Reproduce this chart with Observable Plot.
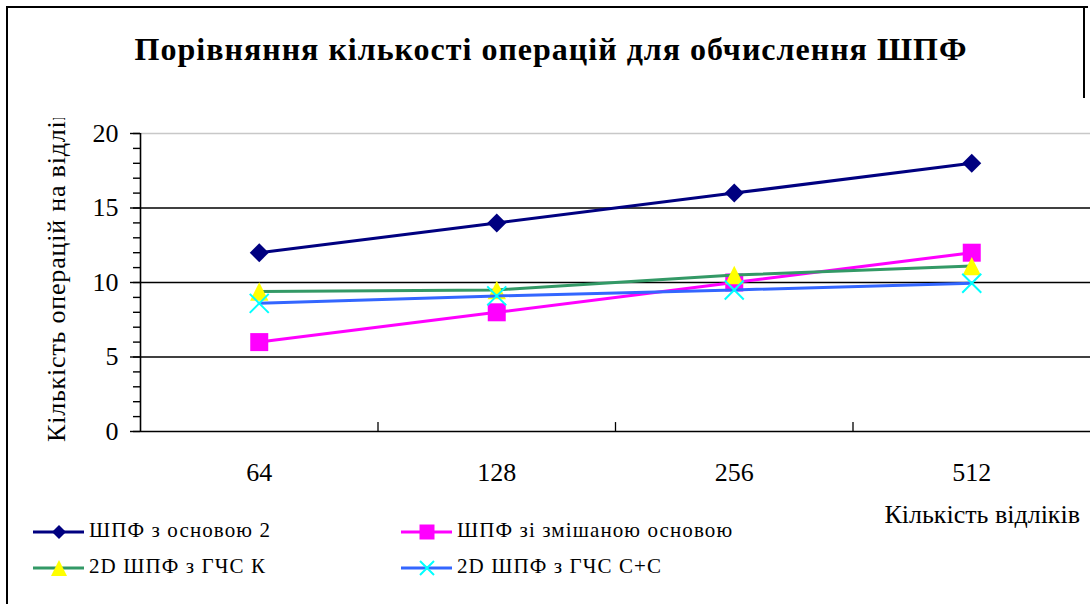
<!DOCTYPE html>
<html>
<head>
<meta charset="utf-8">
<script src="https://cdn.jsdelivr.net/npm/d3@7"></script>
<script src="https://cdn.jsdelivr.net/npm/@observablehq/plot@0.6"></script>
<style>
  html, body { margin: 0; padding: 0; background: #fff; }
  #wrap { position: relative; width: 1090px; height: 604px; overflow: hidden; font-family: "Liberation Serif", "Times New Roman", serif; }
  .abs { position: absolute; white-space: nowrap; }
  #title { left: 0; width: 1102px; top: 32px; text-align: center; font-weight: bold; font-size: 32px; letter-spacing: 1px; line-height: 34px; }
  #xlabel { right: 10px; top: 500px; font-size: 26px; line-height: 30px; }
  .leg { font-size: 21px; letter-spacing: 1.1px; line-height: 24px; }
  #border-top { left: 6px; top: 6px; width: 1082px; height: 2px; background: #000; }
  #border-left { left: 6px; top: 6px; width: 2px; height: 598px; background: #000; }
  #border-right { left: 1083px; top: 6px; width: 2px; height: 92px; background: #000; }
</style>
</head>
<body>
<div id="wrap">
  <div id="chart" class="abs" style="left:0;top:0"></div>
  <div id="border-top" class="abs"></div>
  <div id="border-left" class="abs"></div>
  <div id="border-right" class="abs"></div>
  <div id="title" class="abs"></div>
  <div id="xlabel" class="abs"></div>
  <svg id="ylab" class="abs" style="left:40px;top:118px;overflow:hidden" width="40" height="330"></svg>
  <div id="legend"></div>
</div>
<script>
// ---- data ----
const categories = ["64", "128", "256", "512"];
const seriesNames = ["ШПФ з основою 2", "ШПФ зі змішаною основою", "2D ШПФ з ГЧС К", "2D ШПФ з ГЧС С+С"];
const radix2 = [12, 14, 16, 18];
const mixedRadix = [6, 8, 10, 12];
const gchsK = [9.4, 9.5, 10.5, 11.1];
const gchsCC = [8.6, 9.1, 9.5, 9.95];
const yTicksMajor = [0, 5, 10, 15, 20];
const titleText = "Порівняння кількості операцій для обчислення ШПФ";
const yLabelText = "Кількість операцій на відлік";
const xLabelText = "Кількість відліків";

// ---- styles ----
const lineColors = ["#000080", "#FF00FF", "#339966", "#3366FF"];
const markerFill = ["#000080", "#FF00FF", "#FFFF00", "none"];
const markerStroke = ["none", "none", "none", "#00FFFF"];

const symDiamond = { draw(ctx, size) { const r = Math.sqrt(size / Math.PI); ctx.moveTo(0, -r); ctx.lineTo(r, 0); ctx.lineTo(0, r); ctx.lineTo(-r, 0); ctx.closePath(); } };
const symSquare = { draw(ctx, size) { const r = Math.sqrt(size / Math.PI); ctx.rect(-r, -r, 2 * r, 2 * r); } };
const symTriangle = { draw(ctx, size) { const r = Math.sqrt(size / Math.PI); ctx.moveTo(0, -r); ctx.lineTo(r, r); ctx.lineTo(-r, r); ctx.closePath(); } };
const symX = { draw(ctx, size) { const r = Math.sqrt(size / Math.PI); ctx.moveTo(-r, -r); ctx.lineTo(r, r); ctx.moveTo(r, -r); ctx.lineTo(-r, r); } };
const symbols = [symDiamond, symSquare, symTriangle, symX];
const symR = [9.5, 9, 9.2, 9.5];

const allSeries = [radix2, mixedRadix, gchsK, gchsCC];
const table = allSeries.map((vals, s) => vals.map((v, i) => ({ series: seriesNames[s], s, xi: i + 0.5, cat: categories[i], value: v })));

const marks = [
  Plot.ruleY([5, 10, 15], { stroke: "#000", strokeWidth: 1.6 }),
  Plot.ruleY([20], { stroke: "#c8c8c8", strokeWidth: 1.6 }),
  Plot.ruleY([0], { stroke: "#000", strokeWidth: 1.6 }),
  Plot.ruleX([0], { y1: 0, y2: 20, stroke: "#000", strokeWidth: 1.6 }),
  Plot.ruleX([1, 2, 3], { y1: 0, y2: 0.6, stroke: "#000", strokeWidth: 1.3 }),
  Plot.axisY({ ticks: d3.range(0, 21), tickSize: 7, tickFormat: () => "", strokeWidth: 1.4, label: null }),
  Plot.axisY({ ticks: yTicksMajor, tickSize: 10, tickPadding: 12, fontSize: 26, fontFamily: "Liberation Serif", strokeWidth: 1.4, fill: "#000", label: null }),
  Plot.axisX({ ticks: categories.map((c, i) => i + 0.5), tickFormat: d => categories[Math.round(d - 0.5)], tickSize: 0, tickPadding: 31, fontSize: 26, fontFamily: "Liberation Serif", fill: "#000", label: null })
];
table.forEach((rows, s) => {
  marks.push(Plot.line(rows, { x: "xi", y: "value", stroke: lineColors[s], strokeWidth: 3 }));
  marks.push(Plot.dot(rows, { x: "xi", y: "value", symbol: () => symbols[s], r: symR[s], fill: markerFill[s], stroke: markerStroke[s], strokeWidth: s === 3 ? 2 : 0 }));
});

const chart = Plot.plot({
  width: 1090,
  height: 604,
  marginLeft: 140,
  marginRight: 0,
  marginTop: 133,
  marginBottom: 173,
  x: { type: "linear", domain: [0, 4], axis: null },
  y: { domain: [0, 20], axis: null },
  symbol: { type: "identity" },
  style: { background: "transparent", color: "#000", fontFamily: "Liberation Serif" },
  marks
});
document.getElementById("chart").appendChild(chart);

document.getElementById("title").textContent = titleText;
document.getElementById("xlabel").textContent = xLabelText;

// y label (clipped at the top like the reference)
const ns = "http://www.w3.org/2000/svg";
const ylab = document.getElementById("ylab");
const yt = document.createElementNS(ns, "text");
yt.setAttribute("transform", "translate(25,324) rotate(-90)");
yt.setAttribute("font-family", "Liberation Serif");
yt.setAttribute("font-size", "26");
yt.setAttribute("letter-spacing", "0.8");
yt.textContent = yLabelText;
ylab.appendChild(yt);

// legend
const legendPos = [
  { x: 33, y: 532 }, { x: 401, y: 532 },
  { x: 33, y: 568 }, { x: 401, y: 568 }
];
const legR = [7, 7.5, 8, 7];
const legend = document.getElementById("legend");
seriesNames.forEach((name, s) => {
  const p = legendPos[s];
  const sv = document.createElementNS(ns, "svg");
  sv.setAttribute("width", 52); sv.setAttribute("height", 24);
  sv.setAttribute("class", "abs");
  sv.style.left = p.x + "px"; sv.style.top = (p.y - 12) + "px";
  const ln = document.createElementNS(ns, "line");
  ln.setAttribute("x1", 0); ln.setAttribute("x2", 51); ln.setAttribute("y1", 12); ln.setAttribute("y2", 12);
  ln.setAttribute("stroke", lineColors[s]); ln.setAttribute("stroke-width", 3);
  sv.appendChild(ln);
  const path = d3.path();
  symbols[s].draw(path, Math.PI * legR[s] * legR[s]);
  const pe = document.createElementNS(ns, "path");
  pe.setAttribute("d", path.toString());
  pe.setAttribute("transform", "translate(26,12)");
  pe.setAttribute("fill", markerFill[s]);
  pe.setAttribute("stroke", markerStroke[s]);
  pe.setAttribute("stroke-width", s === 3 ? 2 : 0);
  sv.appendChild(pe);
  legend.appendChild(sv);
  const t = document.createElement("div");
  t.className = "abs leg";
  t.style.left = (p.x + 56) + "px";
  t.style.top = (p.y - 14) + "px";
  t.textContent = name;
  legend.appendChild(t);
});
</script>
</body>
</html>
